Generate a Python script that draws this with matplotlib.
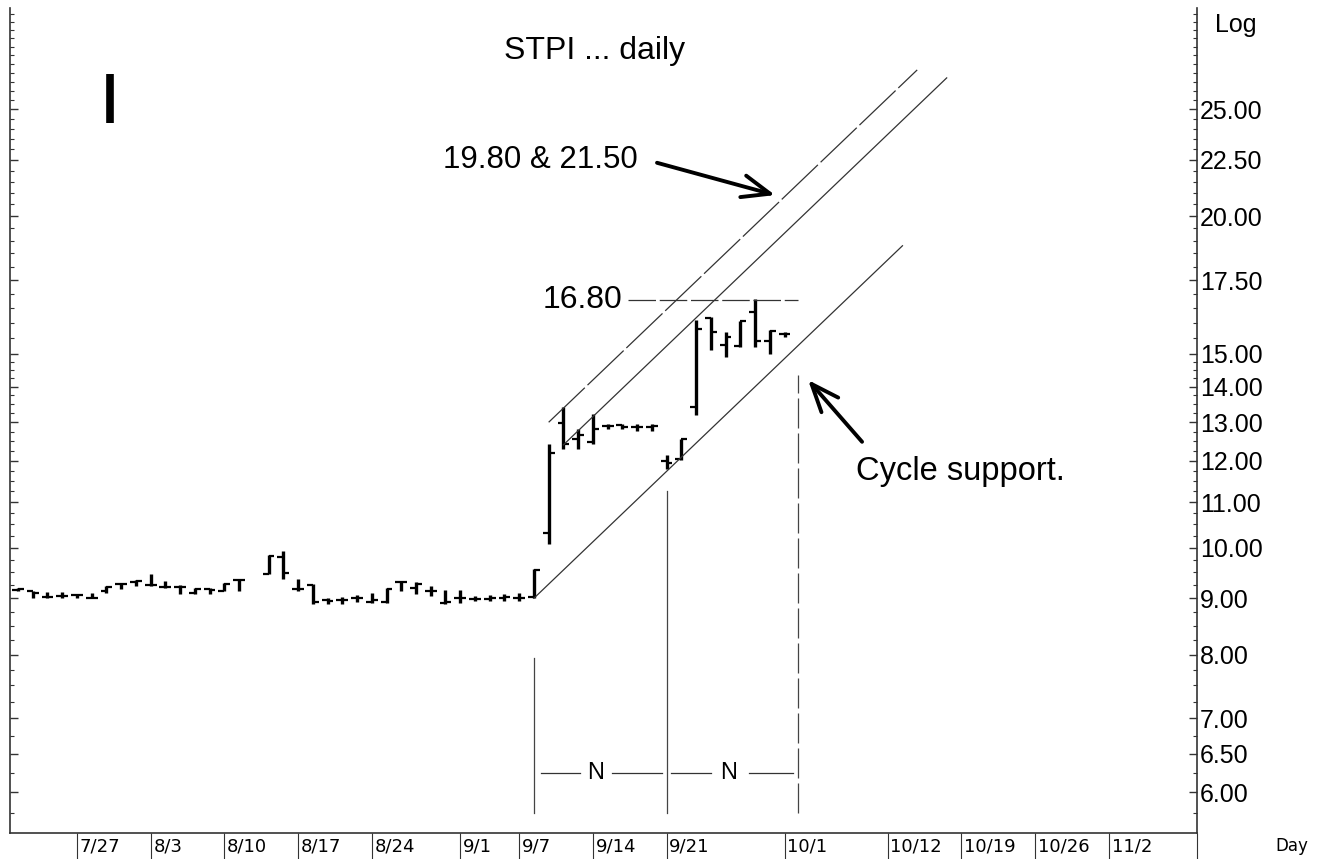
import matplotlib
matplotlib.use('Agg')
import matplotlib.pyplot as plt
from matplotlib.ticker import FixedLocator, FuncFormatter, NullFormatter

plt.rcParams['font.family'] = ['Liberation Sans', 'DejaVu Sans']

# trading-day slots (slot 16 has no bar)
slots = list(range(0, 16)) + list(range(17, 53))

high = [9.19, 9.13, 9.11, 9.11, 9.08, 9.10, 9.23, 9.29, 9.35, 9.46, 9.33, 9.25, 9.19, 9.19, 9.29, 9.37,
        9.86, 9.93, 9.37, 9.27, 9.00, 9.02, 9.06, 9.10, 9.19, 9.33, 9.31, 9.23, 9.15, 9.15, 9.04, 9.06, 9.08, 9.10, 9.56,
        12.41, 13.43, 12.83, 13.23, 12.96, 12.96, 12.96, 12.94, 12.15, 12.56, 16.10, 16.20, 15.70, 16.07, 16.82, 15.77, 15.70]
low = [9.13, 9.00, 9.00, 9.00, 9.00, 9.00, 9.10, 9.17, 9.23, 9.23, 9.19, 9.08, 9.08, 9.08, 9.13, 9.13,
       9.46, 9.37, 9.13, 8.89, 8.89, 8.89, 8.93, 8.91, 8.91, 9.13, 9.08, 9.04, 8.89, 8.91, 8.95, 8.95, 8.95, 8.95, 9.00,
       10.09, 12.30, 12.30, 12.41, 12.83, 12.81, 12.77, 12.77, 11.80, 12.02, 13.21, 15.12, 14.91, 15.21, 15.21, 15.00, 15.54]
opens = [9.15, 9.13, 9.02, 9.05, 9.06, 9.01, 9.14, 9.27, 9.31, 9.25, 9.21, 9.21, 9.10, 9.17, 9.13, 9.35,
         9.46, 9.80, 9.17, 9.25, 8.96, 8.96, 9.00, 8.93, 8.93, 9.31, 9.19, 9.13, 8.91, 9.00, 8.98, 8.98, 9.00, 9.00, 9.02,
         10.31, 12.99, 12.56, 12.48, 12.90, 12.92, 12.88, 12.87, 11.98, 12.05, 13.43, 16.15, 15.28, 15.25, 16.38, 15.40, 15.62]
closes = [9.17, 9.10, 9.02, 9.05, 9.06, 9.01, 9.21, 9.27, 9.33, 9.25, 9.21, 9.21, 9.17, 9.15, 9.27, 9.35,
          9.84, 9.48, 9.17, 8.93, 8.94, 8.96, 9.00, 8.96, 9.17, 9.31, 9.27, 9.13, 8.93, 9.00, 8.98, 9.00, 9.02, 9.00, 9.54,
          12.20, 12.41, 12.65, 12.83, 12.90, 12.88, 12.88, 12.90, 11.95, 12.56, 15.80, 15.70, 15.55, 16.05, 15.40, 15.73, 15.65]

date_labels = ['7/27', '8/3', '8/10', '8/17', '8/24', '9/1', '9/7', '9/14', '9/21',
               '10/1', '10/12', '10/19', '10/26', '11/2']
date_slots = [4, 9, 14, 19, 24, 30, 34, 39, 44, 52, 59, 64, 69, 74]

price_ticks = [6.0, 6.5, 7.0, 8.0, 9.0, 10.0, 11.0, 12.0, 13.0, 14.0, 15.0, 17.5, 20.0, 22.5, 25.0]

# drawn lines: (slot, price) end points
support = [(35, 9.0), (60, 18.8)]
channel_mid = [(37, 12.4), (63, 26.7)]
channel_top = [(36, 13.0), (61, 27.15)]
level_1680 = 16.80

XMIN, XMAX = -0.54, 79.98

fig = plt.figure(figsize=(13.22, 8.59), dpi=100)
ax = fig.add_axes([10 / 1322, 26 / 859, 1187 / 1322, 825 / 859])
ax.set_yscale('log')
ax.set_ylim(5.51, 30.9)
ax.set_xlim(XMIN, XMAX)

# OHLC bars
ax.vlines(slots, low, high, color='black', lw=2.4)
ax.hlines(opens, [s - 0.4 for s in slots], slots, color='black', lw=1.6)
ax.hlines(closes, slots, [s + 0.4 for s in slots], color='black', lw=1.6)

# channel lines
ax.plot(*zip(*support), color='#333333', lw=0.9)
ax.plot(*zip(*channel_mid), color='#333333', lw=0.9)
ax.plot(*zip(*channel_top), color='#333333', lw=0.9, ls=(0, (40, 3)))
ax.plot([41.4, 52.9], [level_1680, level_1680], color='#333333', lw=0.9, ls=(0, (22, 3)))

# cycle verticals
ax.plot([35, 35], [5.74, 7.95], color='#444444', lw=0.9)
ax.plot([44, 44], [5.74, 11.25], color='#444444', lw=0.9)
ax.plot([52.9, 52.9], [5.74, 14.36], color='#444444', lw=0.9, ls=(0, (24, 4)))

# N spans
for a, b in [(35.5, 38.1), (40.3, 43.7), (44.3, 47.0), (49.6, 52.6)]:
    ax.plot([a, b], [6.25, 6.25], color='#333333', lw=0.9)
ax.text(39.2, 6.25, 'N', ha='center', va='center', fontsize=17)
ax.text(48.2, 6.25, 'N', ha='center', va='center', fontsize=17)

# annotations
ax.text(39.1, 28.25, 'STPI ... daily', ha='center', va='center', fontsize=23)
ax.text(28.8, 22.47, '19.80 & 21.50', ha='left', va='center', fontsize=22.5)
ax.text(41.0, 16.8, '16.80', ha='right', va='center', fontsize=23)
ax.text(56.85, 11.73, 'Cycle support.', ha='left', va='center', fontsize=23.5)
ax.plot([6.24, 6.24], [24.3, 26.9], color='black', lw=5.5, solid_capstyle='butt')

arrow = dict(arrowstyle='->,head_length=1.0,head_width=0.4', lw=2.8, color='black',
             mutation_scale=20, shrinkA=0, shrinkB=0)
ax.annotate('', xy=(51.36, 20.9), xytext=(43.35, 22.36), arrowprops=arrow)
ax.annotate('', xy=(53.6, 14.2), xytext=(57.26, 12.48), arrowprops=arrow)

# axes styling
ax.spines['top'].set_visible(False)
for side in ['left', 'right', 'bottom']:
    ax.spines[side].set_color('#333333')
    ax.spines[side].set_linewidth(1.2)

ax.yaxis.set_major_locator(FixedLocator(price_ticks))
ax.yaxis.set_major_formatter(FuncFormatter(lambda v, p: '%.2f' % v))
minor = [5.5 + 0.25 * k for k in range(38)] + [15.5 + 0.5 * k for k in range(32)]
ax.yaxis.set_minor_locator(FixedLocator(minor))
ax.yaxis.set_minor_formatter(NullFormatter())
ax.tick_params(axis='y', which='both', direction='in', left=True, right=True,
               labelleft=False, labelright=True, labelsize=18, pad=2, color='#333333')
ax.tick_params(axis='y', which='major', length=6, width=1)
ax.tick_params(axis='y', which='minor', length=3, width=0.8)

ax.set_xticks(date_slots + [XMAX])
ax.set_xticklabels([])
ax.tick_params(axis='x', direction='out', length=19, width=0.8, color='#333333')
for lab, s in zip(date_labels, date_slots):
    ax.annotate(lab, xy=(s, 0), xycoords=('data', 'axes fraction'), xytext=(2, -10),
                textcoords='offset points', ha='left', va='center', fontsize=13,
                family='DejaVu Sans')

fig.text(1215 / 1322, 1 - 25 / 859, 'Log', ha='left', va='center', fontsize=18)
fig.text(1292 / 1322, 1 - 846 / 859, 'Day', ha='center', va='center', fontsize=12,
         family='DejaVu Sans')

fig.savefig('out.png', dpi=100, facecolor='white')
